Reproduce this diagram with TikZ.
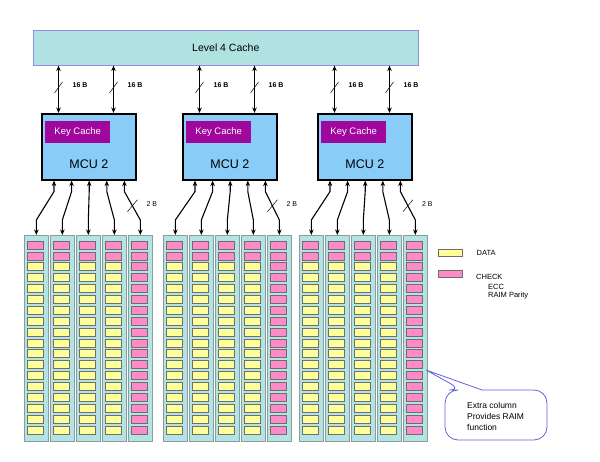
\documentclass[tikz,border=0pt]{standalone}
\usepackage{fontspec}
\setmainfont{Liberation Sans}
\usetikzlibrary{arrows.meta,positioning,calc}
\definecolor{Cache}{HTML}{B0E2E2}
\definecolor{CacheEdge}{HTML}{8C8CE0}
\definecolor{Mcu}{HTML}{8ACCF8}
\definecolor{KeyC}{HTML}{A0079D}
\definecolor{Dimm}{HTML}{B3E3E3}
\definecolor{DimmEdge}{HTML}{8A9C9C}
\definecolor{Dat}{HTML}{FFFF99}
\definecolor{Chk}{HTML}{FF8AC8}
\definecolor{CellEdge}{HTML}{6E6E6E}
\definecolor{Call}{HTML}{6262DC}

\begin{document}
\begin{tikzpicture}[x=1pt,y=-1pt,
  bus/.style={line width=1.1pt,>={Stealth[length=5.5pt,width=4.5pt]},<->},
  tick/.style={line width=0.5pt},
  lab/.style={font=\fontsize{7}{8}\selectfont\bfseries,anchor=west,inner sep=0},
  mcubox/.style={draw,line width=1.6pt,fill=Mcu,minimum width=94,minimum height=66,anchor=north west,inner sep=0},
  keybox/.style={fill=KeyC,text=white,minimum width=65,minimum height=22,anchor=north west,inner sep=0,font=\fontsize{9.5}{11}\selectfont},
  mcutxt/.style={font=\fontsize{12.5}{14}\selectfont,inner sep=0},
  dimm/.style={draw=DimmEdge,line width=0.7pt,fill=Dimm,minimum width=24,minimum height=206,anchor=north west,inner sep=0},
  cell/.style={draw=CellEdge,line width=0.5pt},
  legbox/.style={cell,minimum width=24,minimum height=7,anchor=north west,inner sep=0},
  legtxt/.style={font=\fontsize{7.5}{9}\selectfont,anchor=west,inner sep=0},
  callout/.style={draw=Call,line width=0.8pt,fill=white}]
  \useasboundingbox (0,0) rectangle (600,462);

  \node[draw=CacheEdge,fill=Cache,line width=.6pt,minimum width=385,minimum height=35,
    anchor=north west,inner sep=0,font=\fontsize{10.5}{12}\selectfont] (cache) at (33,30) {Level 4 Cache};

  \foreach \g/\mx/\cx in {1/41/24,2/182/163,3/317/299} {
    \node[mcubox] (m\g) at (\mx,113) {};
    \node[keybox] (k\g) at ($(m\g.north west)+(4,8)$) {Key Cache};
    \node[mcutxt] (mt\g) at ($(m\g.south)+(0,-16)$) {MCU 2};
    % links up to the L4 cache
    \foreach \u [count=\j] in {17.5,72.5} {
      \draw[bus] ($(m\g.north west)+(\u,0)$) coordinate (b\g\j) -- (b\g\j |- cache.south);
      \draw[tick] ($(b\g\j)+(-4,-20)$) -- ($(b\g\j)+(4,-31)$);
      \node[lab] (w\g\j) at ($(b\g\j)+(14,-28)$) {16 B};
    }
    % five DIMM columns
    \foreach \i in {0,...,4} {
      \pgfmathsetmacro\colx{\cx+26*\i}
      \node[dimm] (c\g\i) at (\colx,235) {};
      \foreach \k in {0,...,17} {
        \pgfmathsetmacro\celly{241+10.87*\k}
        \ifnum\k<2 \def\cc{Chk}\else\ifnum\i=4 \def\cc{Chk}\else\def\cc{Dat}\fi\fi
        \draw[cell,fill=\cc] (\colx+3.5,\celly) rectangle ++(15.5,8);
      }
      \draw[bus] ($(m\g.south west)+(13+17.6*\i,0)$) -- ++(0,11)
        -- coordinate[pos=.5] (s\g\i) ($(c\g\i.north)+(0,-15)$) -- (c\g\i.north);
    }
    \draw[tick] ($(s\g4)+(-5,6)$) -- ($(s\g4)+(5,-6)$);
    \node[lab,font=\fontsize{7}{8}\selectfont] (nb\g) at ($(s\g4)+(14,-2)$) {2 B};
  }

  % legend
  \node[legbox,fill=Dat] (ldat) at (438,249) {};
  \node[legtxt,right=14pt of ldat] (tdat) {DATA};
  \node[legbox,fill=Chk] (lchk) at (438,270) {};
  \node[legtxt] (tchk) at (476,277) {CHECK};
  \node[legtxt] (tecc) at (488,287) {ECC};
  \node[legtxt] (traim) at (488,296) {RAIM Parity};

  % callout
  \draw[callout] (426,370) -- (482,390) [rounded corners=13pt] -- (547,390) -- (547,440)
    -- (445,440) -- (445,390) -- (462,390) [sharp corners] -- cycle;
  \node[font=\fontsize{8.5}{11}\selectfont,align=left,anchor=west,inner sep=0] (note) at (467,416)
    {Extra column\\Provides RAIM\\function};
\end{tikzpicture}
\end{document}
